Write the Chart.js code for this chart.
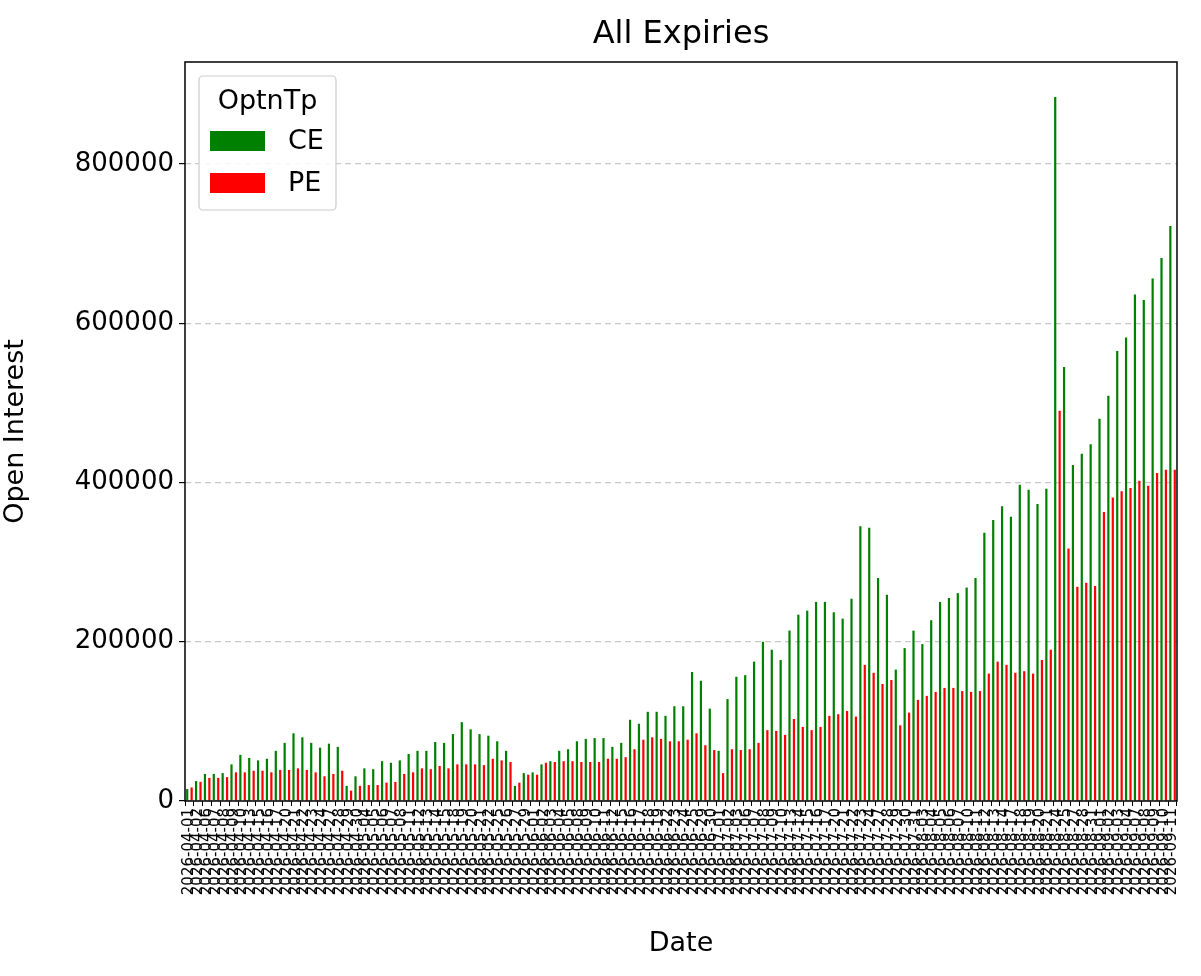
<!DOCTYPE html>
<html>
<head>
<meta charset="utf-8">
<script src="https://cdn.jsdelivr.net/npm/chart.js@4"></script>
<style>html,body{margin:0;padding:0;background:#fff}</style>
</head>
<body>
<div style="position:relative;width:1201px;height:976px"><canvas id="c"></canvas></div>
<script>
// trading dates (x categories)
const dates = ("2026-04-01 2026-04-02 2026-04-06 2026-04-07 2026-04-08 2026-04-09 2026-04-10 2026-04-13 2026-04-15 2026-04-16 " +
  "2026-04-17 2026-04-20 2026-04-21 2026-04-22 2026-04-23 2026-04-24 2026-04-27 2026-04-28 2026-04-29 2026-04-30 " +
  "2026-05-04 2026-05-05 2026-05-06 2026-05-07 2026-05-08 2026-05-11 2026-05-12 2026-05-13 2026-05-14 2026-05-15 " +
  "2026-05-18 2026-05-19 2026-05-20 2026-05-21 2026-05-22 2026-05-25 2026-05-26 2026-05-27 2026-05-29 " +
  "2026-06-01 2026-06-02 2026-06-03 2026-06-04 2026-06-05 2026-06-08 2026-06-09 2026-06-10 2026-06-11 2026-06-12 " +
  "2026-06-15 2026-06-16 2026-06-17 2026-06-18 2026-06-19 2026-06-22 2026-06-23 2026-06-24 2026-06-25 2026-06-29 2026-06-30 " +
  "2026-07-01 2026-07-02 2026-07-03 2026-07-06 2026-07-07 2026-07-08 2026-07-09 2026-07-10 2026-07-13 2026-07-14 " +
  "2026-07-15 2026-07-16 2026-07-17 2026-07-20 2026-07-21 2026-07-22 2026-07-23 2026-07-24 2026-07-27 2026-07-28 " +
  "2026-07-29 2026-07-30 2026-07-31 2026-08-03 2026-08-04 2026-08-05 2026-08-06 2026-08-07 2026-08-10 2026-08-11 " +
  "2026-08-12 2026-08-13 2026-08-14 2026-08-17 2026-08-18 2026-08-19 2026-08-20 2026-08-21 2026-08-24 2026-08-25 " +
  "2026-08-27 2026-08-28 2026-08-31 2026-09-01 2026-09-02 2026-09-03 2026-09-04 2026-09-07 2026-09-08 2026-09-09 " +
  "2026-09-10 2026-09-11").split(" ");

// open interest, thousands
const ceK = [15,25,34,34,35,46,58,54,51,53,63,73,85,80,73,67,72,68,19,31,
  41,40,50,48,51,59,63,63,74,73,84,99,90,84,82,75,63,19,35,36,
  46,50,63,65,75,78,79,79,68,73,102,97,112,112,107,119,119,162,151,116,
  63,128,156,158,175,200,190,177,214,234,239,250,250,237,229,254,345,343,280,259,
  165,192,214,197,227,250,255,261,268,280,337,353,370,357,397,391,373,392,884,545,
  422,436,448,480,509,565,582,636,629,656,682,722];
const peK = [17,24,29,29,30,36,36,38,38,36,39,39,41,39,36,31,34,38,13,19,
  20,20,23,24,34,36,41,40,44,41,46,46,46,45,53,51,49,23,33,33,
  48,49,50,50,49,49,49,53,53,55,65,77,80,78,75,75,77,85,70,64,
  35,65,64,65,73,89,88,83,103,93,89,93,107,109,113,106,171,161,147,152,
  95,111,127,132,137,142,142,138,137,138,160,175,171,161,163,160,177,190,490,317,
  269,274,270,363,381,389,393,402,396,412,416,416];

const yTicks = [0, 200000, 400000, 600000, 800000];

const FONT = 'DejaVu Sans';

const frame = {
  id: 'frame',
  afterDraw(chart) {
    const { ctx, chartArea: a } = chart;
    ctx.save();
    ctx.strokeStyle = '#000';
    ctx.lineWidth = 1.5;
    ctx.strokeRect(a.left, a.top, a.right - a.left, a.bottom - a.top);
    // title
    ctx.fillStyle = '#000';
    ctx.font = '32px "' + FONT + '"';
    ctx.textAlign = 'center';
    ctx.textBaseline = 'middle';
    ctx.fillText('All Expiries', (a.left + a.right) / 2, 35);
    // legend
    const x = 199, y = 76, w = 137, h = 134;
    ctx.fillStyle = 'rgba(255,255,255,0.85)';
    ctx.strokeStyle = '#ccc';
    ctx.lineWidth = 1.2;
    ctx.beginPath();
    ctx.roundRect(x, y, w, h, 4);
    ctx.fill(); ctx.stroke();
    ctx.fillStyle = '#000';
    ctx.font = '27px "' + FONT + '"';
    ctx.fillText('OptnTp', x + w / 2, 102);
    const items = [['CE', 'green', 141], ['PE', 'red', 183]];
    ctx.textAlign = 'left';
    for (const [lab, col, cy] of items) {
      ctx.fillStyle = col;
      ctx.fillRect(210, cy - 10, 55, 20);
      ctx.fillStyle = '#000';
      ctx.fillText(lab, 288, cy + 1);
    }
    ctx.restore();
  }
};

new Chart(document.getElementById('c'), {
  type: 'bar',
  data: {
    labels: dates,
    datasets: [
      { label: 'CE', data: ceK.map(v => v * 1000), backgroundColor: 'green' },
      { label: 'PE', data: peK.map(v => v * 1000), backgroundColor: 'red' }
    ]
  },
  options: {
    responsive: true,
    maintainAspectRatio: false,
    animation: false,
    layout: { padding: { top: 62, right: 24, left: 0, bottom: 0 } },
    datasets: { bar: { barPercentage: 0.5, categoryPercentage: 1 } },
    plugins: { legend: { display: false }, tooltip: { enabled: false } },
    scales: {
      x: {
        afterFit: s => { s.height = 175; },
        grid: { drawOnChartArea: false, color: '#000', tickLength: 5 },
        border: { display: false },
        ticks: { color: '#000', font: { family: FONT, size: 15 }, maxRotation: 90, minRotation: 90, autoSkip: false, padding: 2 },
        title: { display: true, text: 'Date', color: '#000', font: { family: FONT, size: 27 }, padding: { top: 0, bottom: 16 } }
      },
      y: {
        min: 0,
        max: 928000,
        afterFit: s => { s.width = 185; },
        afterBuildTicks: s => { s.ticks = yTicks.map(v => ({ value: v })); },
        grid: { color: '#c8c8c8', lineWidth: 1.2, tickColor: '#000', tickLength: 6, tickBorderDash: [] },
        border: { display: false, dash: [6, 4] },
        ticks: { color: '#000', font: { family: FONT, size: 26 }, padding: 5, callback: v => String(v) },
        title: { display: true, text: 'Open Interest', color: '#000', font: { family: FONT, size: 27 }, padding: { top: 0, bottom: 4 } }
      }
    }
  },
  plugins: [frame]
});
</script>
</body>
</html>
